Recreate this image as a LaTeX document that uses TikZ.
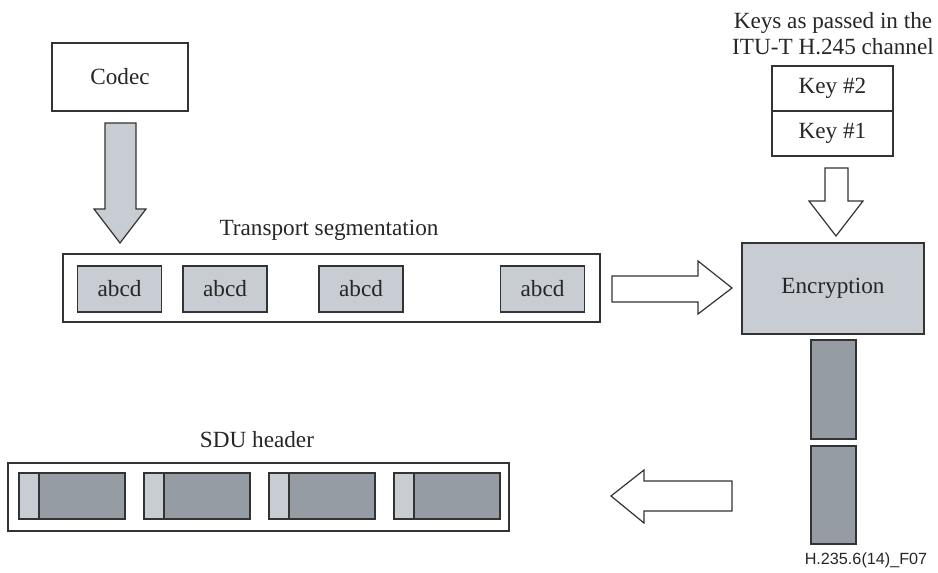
\documentclass[tikz,border=0pt]{standalone}
\usepackage{fontspec}
\setmainfont{Liberation Serif}
\newfontfamily\labelfont{Liberation Sans}
\begin{document}
\begin{tikzpicture}[x=0.5pt,y=-0.5pt,
  txt/.style={font=\fontsize{11.6}{14}\selectfont, text=black!85, inner sep=0pt},
  plainbox/.style={draw=black!80, line width=0.6pt, fill=white, inner sep=0pt},
  litebox/.style={draw=black!80, line width=0.6pt, fill=lite, inner sep=0pt},
  darkbox/.style={draw=black!80, line width=0.6pt, fill=dark, inner sep=0pt},
  blockarrow/.style={draw=black!80, line width=0.6pt, line join=miter}]
\definecolor{lite}{HTML}{C8CCD3}
\definecolor{dark}{HTML}{959CA4}
\useasboundingbox (0,0) rectangle (938,573);

% codec and its output arrow
\node[plainbox, txt, minimum width=68pt, minimum height=34pt] (codec) at (120,77) {Codec};
\draw[blockarrow, fill=lite] (105,123) -- (136,123) -- (136,209) -- (146,209) -- (120,243)
  -- (94,209) -- (105,209) -- cycle;

% transport segmentation
\node[txt] (tslabel) at (329,230) {Transport segmentation};
\node[plainbox, minimum width=268.5pt, minimum height=34pt] (tsbox) at (331.5,288) {};
\foreach \cx/\nm in {119.5/a1, 225/a2, 361/a3, 542.5/a4}
  \node[litebox, txt, minimum width=42pt, minimum height=23pt] (\nm) at (\cx,289) {abcd};

% keys
\node[txt, align=center] (keylabel) at (833,34) {Keys as passed in the\\[-1pt]ITU-T H.245 channel};
\node[plainbox, txt, minimum width=60.5pt, minimum height=22.5pt] (key2) at (832.5,88.5) {Key \#2};
\node[plainbox, txt, minimum width=60.5pt, minimum height=22.5pt] (key1) at (832.5,133.5) {Key \#1};
\draw[blockarrow, fill=white] (825,168) -- (848,168) -- (848,201) -- (863,201) -- (836,236)
  -- (809,201) -- (825,201) -- cycle;

% arrow into encryption
\draw[blockarrow, fill=white] (612,276) -- (698,276) -- (698,261) -- (732,288) -- (698,314)
  -- (698,302) -- (612,302) -- cycle;

% encryption and its output
\node[litebox, txt, minimum width=91pt, minimum height=45.5pt] (enc) at (833,288.5) {Encryption};
\node[darkbox, minimum width=22.5pt, minimum height=49.5pt] (bar1) at (833.5,389.5) {};
\node[darkbox, minimum width=22.5pt, minimum height=49pt] (bar2) at (833.5,495) {};

% arrow back to SDUs
\draw[blockarrow, fill=white] (732,481) -- (644,481) -- (644,470) -- (611,496) -- (644,523)
  -- (644,511) -- (732,511) -- cycle;

% SDUs with headers
\node[txt] (sdulabel) at (257,440) {SDU header};
\node[plainbox, minimum width=250.5pt, minimum height=34pt] (sdubox) at (258.5,497) {};
\foreach \hx/\nm in {19/s1, 144/s2, 269/s3, 394/s4}{
  \draw[draw=black!80, line width=0.6pt, fill=dark] (\hx+20,473) rectangle (\hx+106,519);
  \draw[draw=black!80, line width=0.6pt, fill=lite] (\hx,473) rectangle (\hx+20,519);
}

\node[font=\labelfont\fontsize{8.1}{10}\selectfont, text=black!85, inner sep=0pt] (fig) at (866,560) {H.235.6(14)\_F07};
\end{tikzpicture}
\end{document}
